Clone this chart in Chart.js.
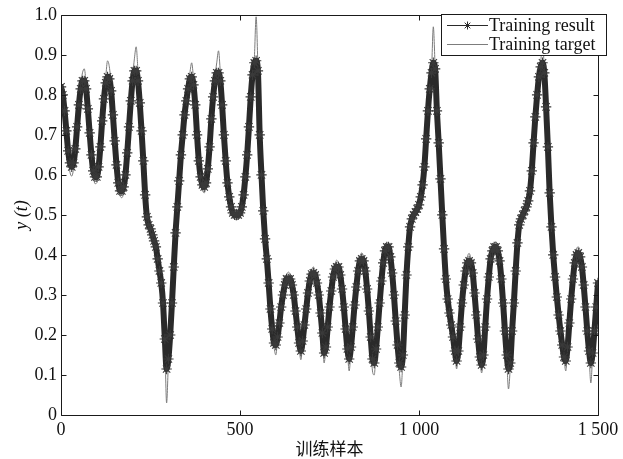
<!DOCTYPE html>
<html>
<head>
<meta charset="utf-8">
<script src="https://cdn.jsdelivr.net/npm/chart.js@4.4.1/dist/chart.umd.min.js"></script>
<style>
html,body{margin:0;padding:0;background:#fff;}
#c{display:block;}
</style>
</head>
<body>
<canvas id="c" width="623" height="459"></canvas>
<script>
// sample spacing of the read-off values (every 5 training samples)
const sampleStep = 5;

// Training target (thin grey line), one value per 5 samples from 0 to 1500
const trainingTarget = [
0.82,0.80,0.755,0.70,0.645,0.607,0.597,0.615,0.66,0.72,0.78,0.825,0.855,0.865,0.83,0.77,0.705,0.645,0.60,0.578,
0.58,0.61,0.67,0.74,0.80,0.845,0.885,0.87,0.825,0.755,0.685,0.62,0.572,0.548,0.543,0.555,0.59,0.65,0.72,0.79,
0.845,0.89,0.92,0.86,0.79,0.715,0.635,0.55,0.495,0.475,0.465,0.45,0.435,0.42,0.39,0.36,0.33,0.275,0.18,0.03,
0.13,0.20,0.28,0.37,0.455,0.52,0.585,0.65,0.70,0.75,0.79,0.825,0.855,0.88,0.84,0.775,0.70,0.63,0.585,0.562,
0.555,0.57,0.61,0.67,0.74,0.80,0.845,0.88,0.91,0.855,0.775,0.70,0.63,0.575,0.54,0.515,0.50,0.49,0.487,0.49,
0.50,0.515,0.545,0.59,0.65,0.72,0.80,0.855,0.89,0.995,0.87,0.70,0.60,0.51,0.44,0.39,0.33,0.26,0.21,0.17,
0.15,0.19,0.23,0.27,0.305,0.333,0.35,0.357,0.352,0.335,0.305,0.265,0.22,0.17,0.138,0.18,0.225,0.27,0.31,0.34,
0.362,0.37,0.36,0.34,0.305,0.26,0.205,0.13,0.17,0.22,0.27,0.315,0.35,0.375,0.387,0.38,0.36,0.32,0.27,0.215,
0.16,0.11,0.165,0.22,0.275,0.325,0.365,0.395,0.405,0.395,0.365,0.32,0.26,0.195,0.11,0.10,0.16,0.22,0.285,0.34,
0.385,0.415,0.43,0.425,0.40,0.36,0.30,0.235,0.17,0.11,0.07,0.14,0.25,0.35,0.42,0.47,0.49,0.50,0.507,0.515,
0.525,0.545,0.575,0.62,0.69,0.76,0.815,0.86,0.97,0.87,0.76,0.68,0.59,0.50,0.415,0.34,0.29,0.255,0.225,0.195,
0.16,0.115,0.16,0.22,0.28,0.33,0.37,0.395,0.404,0.39,0.36,0.31,0.25,0.19,0.14,0.105,0.15,0.22,0.29,0.35,
0.395,0.42,0.43,0.432,0.42,0.39,0.34,0.28,0.21,0.14,0.065,0.12,0.21,0.28,0.36,0.43,0.475,0.49,0.50,0.51,
0.52,0.535,0.56,0.61,0.68,0.745,0.80,0.85,0.88,0.94,0.86,0.77,0.67,0.555,0.47,0.40,0.345,0.295,0.25,0.21,
0.175,0.14,0.11,0.17,0.23,0.29,0.345,0.39,0.415,0.42,0.41,0.38,0.33,0.27,0.21,0.15,0.08,0.15,0.21,0.27,
0.33
];

// Training result (asterisk markers), one value per 5 samples from 0 to 1500
const trainingResult = [
0.82,0.80,0.76,0.71,0.66,0.63,0.62,0.63,0.665,0.72,0.775,0.815,0.835,0.835,0.815,0.765,0.705,0.65,0.61,0.595,
0.595,0.62,0.67,0.735,0.79,0.83,0.845,0.84,0.81,0.75,0.685,0.625,0.58,0.56,0.56,0.57,0.60,0.655,0.72,0.785,
0.835,0.86,0.86,0.835,0.78,0.71,0.635,0.55,0.495,0.475,0.465,0.45,0.435,0.42,0.39,0.36,0.33,0.28,0.19,0.115,
0.14,0.20,0.28,0.37,0.455,0.52,0.585,0.65,0.70,0.75,0.785,0.815,0.84,0.845,0.825,0.775,0.70,0.635,0.595,0.575,
0.57,0.58,0.615,0.67,0.74,0.795,0.835,0.855,0.855,0.835,0.775,0.70,0.635,0.58,0.545,0.52,0.505,0.50,0.50,0.50,
0.505,0.52,0.55,0.595,0.65,0.72,0.795,0.85,0.88,0.885,0.86,0.70,0.60,0.51,0.44,0.39,0.33,0.265,0.215,0.18,
0.175,0.195,0.23,0.27,0.30,0.325,0.34,0.34,0.34,0.325,0.30,0.26,0.22,0.18,0.16,0.185,0.225,0.265,0.305,0.335,
0.352,0.355,0.35,0.33,0.30,0.255,0.205,0.155,0.17,0.22,0.27,0.31,0.345,0.365,0.37,0.37,0.35,0.315,0.27,0.215,
0.165,0.14,0.17,0.22,0.275,0.32,0.36,0.385,0.39,0.385,0.36,0.315,0.26,0.195,0.14,0.13,0.165,0.22,0.28,0.335,
0.38,0.41,0.42,0.42,0.395,0.355,0.30,0.235,0.175,0.13,0.12,0.15,0.25,0.35,0.42,0.47,0.49,0.50,0.507,0.515,
0.525,0.545,0.575,0.62,0.69,0.76,0.815,0.855,0.88,0.865,0.76,0.68,0.59,0.50,0.415,0.34,0.29,0.255,0.225,0.195,
0.16,0.135,0.16,0.22,0.28,0.325,0.36,0.38,0.385,0.38,0.355,0.305,0.25,0.19,0.145,0.125,0.15,0.22,0.29,0.345,
0.39,0.41,0.42,0.42,0.41,0.385,0.34,0.28,0.21,0.15,0.115,0.13,0.21,0.28,0.36,0.43,0.475,0.49,0.50,0.51,
0.52,0.535,0.56,0.61,0.68,0.745,0.80,0.845,0.87,0.88,0.855,0.77,0.67,0.555,0.47,0.40,0.345,0.295,0.25,0.21,
0.175,0.145,0.135,0.17,0.23,0.29,0.34,0.38,0.40,0.405,0.395,0.37,0.325,0.27,0.21,0.16,0.13,0.155,0.21,0.27,
0.33
];

const xTickValues = [0, 500, 1000, 1500];
const xTickLabels = ['0', '500', '1 000', '1 500'];
const yTickLabels = ['0','0.1','0.2','0.3','0.4','0.5','0.6','0.7','0.8','0.9','1.0'];
const seriesNames = ['Training result', 'Training target'];
const xAxisTitle = '训练样本';
const yAxisTitle = 'y (t)';

const toPoints = arr => arr.map((v, i) => ({ x: i * sampleStep, y: v }));

const SERIF = "'Liberation Serif', 'Times New Roman', serif";
const RESULT_COLOR = '#2a2a2a';
const TARGET_COLOR = '#7c7c7c';

const framePlugin = {
  id: 'matlabFrame',
  afterDraw(chart) {
    const { ctx, chartArea: a, scales: { x, y } } = chart;
    ctx.save();
    ctx.strokeStyle = '#1a1a1a';
    ctx.lineWidth = 1;
    const L = Math.round(a.left) + 0.5, R = Math.round(a.right) + 0.5;
    const T = Math.round(a.top) + 0.5, B = Math.round(a.bottom) + 0.5;
    ctx.beginPath();
    ctx.rect(L, T, R - L, B - T);
    const tl = 5;
    x.ticks.forEach(t => {
      const px = Math.round(x.getPixelForValue(t.value)) + 0.5;
      ctx.moveTo(px, B); ctx.lineTo(px, B - tl);
      ctx.moveTo(px, T); ctx.lineTo(px, T + tl);
    });
    y.ticks.forEach(t => {
      const py = Math.round(y.getPixelForValue(t.value)) + 0.5;
      ctx.moveTo(L, py); ctx.lineTo(L + tl, py);
      ctx.moveTo(R, py); ctx.lineTo(R - tl, py);
    });
    ctx.stroke();

    // legend box (MATLAB style, top-right)
    const bx = 441.5, by = 14.5, bw = 165, bh = 41;
    ctx.fillStyle = '#fff';
    ctx.fillRect(bx, by, bw, bh);
    ctx.strokeStyle = '#1a1a1a';
    ctx.strokeRect(bx, by, bw, bh);
    const rows = [25.5, 44.5];
    const ds = chart.data.datasets;
    ctx.font = '18px ' + SERIF;
    ctx.textBaseline = 'middle';
    ctx.textAlign = 'left';
    rows.forEach((ry, i) => {
      ctx.beginPath();
      ctx.strokeStyle = i === 0 ? RESULT_COLOR : TARGET_COLOR;
      ctx.lineWidth = 1;
      ctx.moveTo(447, ry); ctx.lineTo(488, ry);
      ctx.stroke();
      if (i === 0) {
        ctx.strokeStyle = RESULT_COLOR;
        Chart.helpers.drawPoint(ctx, { pointStyle: 'star', radius: 4, borderWidth: 1 }, 467.5, ry);
      }
      ctx.fillStyle = '#111';
      ctx.fillText(ds[i].label, 489, ry + 1);
    });
    ctx.restore();
  }
};

new Chart(document.getElementById('c'), {
  type: 'line',
  data: {
    datasets: [
      {
        label: seriesNames[0],
        data: toPoints(trainingResult),
        borderColor: RESULT_COLOR,
        borderWidth: 6,
        borderJoinStyle: 'round',
        borderCapStyle: 'round',
        pointStyle: 'star',
        pointRadius: 5.2,
        pointBorderWidth: 1.1,
        pointBorderColor: '#3a3a3a',
        pointBackgroundColor: '#3a3a3a',
        cubicInterpolationMode: 'monotone'
      },
      {
        label: seriesNames[1],
        data: toPoints(trainingTarget),
        borderColor: TARGET_COLOR,
        borderWidth: 1,
        pointRadius: 0,
        cubicInterpolationMode: 'monotone'
      }
    ]
  },
  options: {
    responsive: false,
    animation: false,
    devicePixelRatio: 1,
    events: [],
    layout: { padding: { top: 14, right: 25, left: 0, bottom: 0 } },
    plugins: { legend: { display: false }, tooltip: { enabled: false } },
    scales: {
      x: {
        type: 'linear',
        min: 0, max: 1500,
        afterBuildTicks(s) { s.ticks = xTickValues.map(v => ({ value: v })); },
        afterFit(s) { s.height = 44; },
        grid: { display: false, drawTicks: false },
        border: { display: false },
        ticks: {
          padding: 4,
          maxRotation: 0,
          autoSkip: false,
          color: '#111',
          font: { family: SERIF, size: 18 },
          callback: (v) => xTickLabels[xTickValues.indexOf(v)]
        },
        title: {
          display: true,
          text: xAxisTitle,
          color: '#111',
          font: { family: "'Noto Sans CJK SC', sans-serif", size: 17 },
          padding: { top: 0, bottom: 0 }
        }
      },
      y: {
        min: 0, max: 1,
        afterBuildTicks(s) { s.ticks = yTickLabels.map((l, i) => ({ value: i / 10 })); },
        afterFit(s) { s.width = 61; },
        grid: { display: false, drawTicks: false },
        border: { display: false },
        ticks: {
          padding: 4,
          autoSkip: false,
          color: '#111',
          font: { family: SERIF, size: 18 },
          callback: (v, i) => yTickLabels[i]
        },
        title: {
          display: true,
          text: yAxisTitle,
          color: '#111',
          font: { family: SERIF, size: 18, style: 'italic' },
          padding: { top: 11, bottom: 0 }
        }
      }
    }
  },
  plugins: [framePlugin]
});
</script>
</body>
</html>
